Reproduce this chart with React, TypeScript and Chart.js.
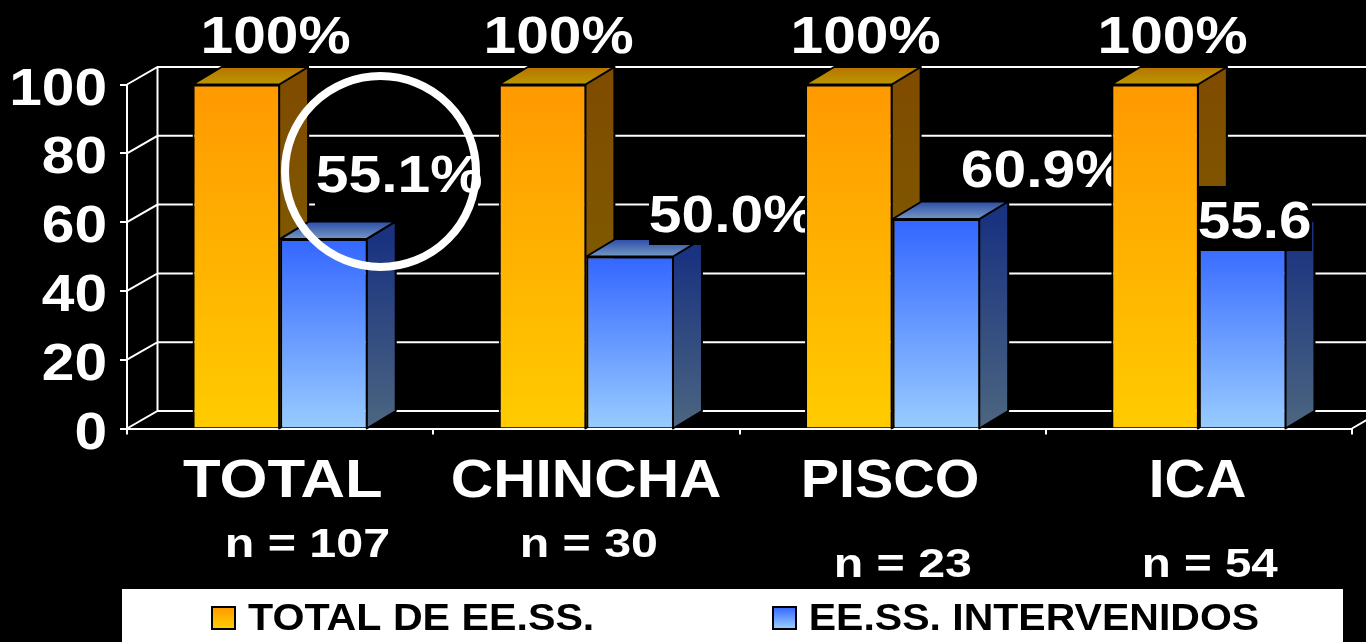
import React, { useEffect, useRef } from "react";
import { Chart, registerables } from "chart.js";

Chart.register(...registerables);

const categories = ["TOTAL", "CHINCHA", "PISCO", "ICA"];
const totalValues = [100, 100, 100, 100];
const intervenedValues = [55.1, 50.0, 60.9, 55.6];
const totalLabels = ["100%", "100%", "100%", "100%"];
const intervenedLabels = ["55.1%", "50.0%", "60.9%", "55.6"];
const countLabels = ["n = 107", "n = 30", "n = 23", "n = 54"];
const seriesNames = ["TOTAL DE EE.SS.", "EE.SS. INTERVENIDOS"];
const yTicks = { min: 0, max: 100, step: 20 };

const FONT = '"Liberation Sans", Arial, sans-serif';
const WALL_DX = 30.5;
const WALL_DY = 17.5;
const BAR_DX = 29;
const BAR_DY = 17.5;

// annotation layout [left, right, baseline]
const categorySpans = [[183, 381, 497], [453, 720, 497], [804, 977, 497], [1152, 1245, 497]];
const countSpans = [[227, 388, 557], [522, 657, 557], [836, 971, 577], [1144, 1278, 577]];
const totalSpans = [[204, 349, 53], [487, 632, 53], [794, 939, 53], [1101, 1246, 53]];
const intervenedSpans = [[317, 481, 191.5], [650, 814, 231.5], [962, 1126, 187], [1199, 1310, 238]];
// black label backgrounds [x0, y0, x1, y1]
const labelBoxes = [[315, 140, 478, 216], [649, 175, 830, 245], [958, 137, 1130, 199], [1199, 186, 1312, 251]];

const ORANGE = ["#FF9900", "#FFCC00"];
const BLUE = ["#3366FF", "#99CCFF"];
const ORANGE_SIDE = ["#7F4C00", "#7F6600"];
const BLUE_SIDE = ["#1A3380", "#4C6680"];
const ORANGE_TOP = ["#B87400", "#BA9800"];
const BLUE_TOP = ["#2C4CA8", "#7499C2"];

function fit(ctx: any, text: string, left: number, right: number, base: number, size: number, color: string) {
  ctx.save();
  ctx.font = `bold ${size}px ${FONT}`;
  ctx.fillStyle = color;
  ctx.textAlign = "left";
  ctx.textBaseline = "alphabetic";
  const m = ctx.measureText(text);
  const ink = m.actualBoundingBoxRight + m.actualBoundingBoxLeft;
  const sx = (right - left) / ink;
  ctx.translate(left + m.actualBoundingBoxLeft * sx, base);
  ctx.scale(sx, 1);
  ctx.fillText(text, 0, 0);
  ctx.restore();
}

function vGrad(ctx: any, y0: number, y1: number, c: string[]) {
  const g = ctx.createLinearGradient(0, y0, 0, y1);
  g.addColorStop(0, c[0]);
  g.addColorStop(1, c[1]);
  return g;
}

function barFill(colors: string[]) {
  return (c: any) => {
    if (typeof c.raw !== "number") return colors[0];
    const y = c.chart.scales.y;
    if (!y) return colors[0];
    const top = y.getPixelForValue(c.raw);
    const bottom = y.getPixelForValue(0);
    if (!Number.isFinite(top) || !Number.isFinite(bottom)) return colors[0];
    return vGrad(c.chart.ctx, top, bottom, colors);
  };
}

function poly(ctx: any, pts: number[][], fill: any) {
  ctx.beginPath();
  pts.forEach((p, i) => (i ? ctx.lineTo(p[0], p[1]) : ctx.moveTo(p[0], p[1])));
  ctx.closePath();
  ctx.fillStyle = fill;
  ctx.fill();
  ctx.strokeStyle = "#000";
  ctx.lineWidth = 2;
  ctx.lineJoin = "round";
  ctx.stroke();
}

const depthPlugin = {
  id: "depth",
  beforeDraw(chart: any) {
    const { ctx, width, height } = chart;
    ctx.save();
    ctx.fillStyle = "#000";
    ctx.fillRect(0, 0, width, height);
    ctx.restore();
  },
  beforeDatasetsDraw(chart: any) {
    const { ctx, scales, chartArea, width } = chart;
    const y = scales.y;
    const left = chartArea.left;
    ctx.save();
    // back wall
    ctx.strokeStyle = "#fff";
    ctx.lineWidth = 2;
    ctx.beginPath();
    ctx.moveTo(left + WALL_DX, y.getPixelForValue(yTicks.max) - WALL_DY);
    ctx.lineTo(left + WALL_DX, y.getPixelForValue(yTicks.min) - WALL_DY);
    y.ticks.forEach((t: any) => {
      const py = y.getPixelForValue(t.value);
      ctx.moveTo(left, py);
      ctx.lineTo(left + WALL_DX, py - WALL_DY);
      ctx.lineTo(width, py - WALL_DY);
    });
    const by = y.getPixelForValue(0);
    ctx.moveTo(chartArea.right, by);
    ctx.lineTo(chartArea.right + WALL_DX, by - WALL_DY);
    ctx.stroke();

    // side and top faces, series by series, under the front faces
    const y0 = y.getPixelForValue(0);
    categories.forEach((_, i) => {
      [0, 1].forEach((ds) => {
        const el = chart.getDatasetMeta(ds).data[i];
        const hw = el.width / 2;
        const xl = el.x - hw;
        const xr = el.x + hw - 1;
        const top = el.y;
        const side = ds === 0 ? ORANGE_SIDE : BLUE_SIDE;
        const roof = ds === 0 ? ORANGE_TOP : BLUE_TOP;
        poly(
          ctx,
          [[xr, top], [xr + BAR_DX, top - BAR_DY], [xr + BAR_DX, y0 - BAR_DY], [xr, y0]],
          vGrad(ctx, top, y0, side),
        );
        poly(
          ctx,
          [[xl, top], [xl + BAR_DX, top - BAR_DY], [xr + BAR_DX, top - BAR_DY], [xr, top]],
          vGrad(ctx, top - BAR_DY, top, roof),
        );
      });
    });
    ctx.restore();
  },
  afterDatasetsDraw(chart: any) {
    const { ctx, width, height } = chart;
    const oranges = chart.getDatasetMeta(0).data;
    intervenedLabels.forEach((label, i) => {
      const next = oranges[i + 1];
      const limit = next ? next.x - next.width / 2 : width;
      const b = labelBoxes[i];
      const s = intervenedSpans[i];
      ctx.save();
      ctx.beginPath();
      ctx.rect(0, 0, limit, height);
      ctx.clip();
      ctx.fillStyle = "#000";
      ctx.fillRect(b[0], b[1], b[2] - b[0], b[3] - b[1]);
      fit(ctx, label, s[0], s[1], s[2], 51, "#fff");
      ctx.restore();
    });
  },
  afterDraw(chart: any) {
    const { ctx, scales, data, height } = chart;
    const y = scales.y;
    // highlight ring on the first group
    ctx.save();
    ctx.strokeStyle = "#fff";
    ctx.lineWidth = 8;
    ctx.beginPath();
    ctx.arc(380.5, 171.5, 95.5, 0, Math.PI * 2);
    ctx.stroke();
    ctx.restore();

    // value axis labels
    y.ticks.forEach((t: any) => {
      const py = y.getPixelForValue(t.value);
      ctx.save();
      ctx.font = `bold 51px ${FONT}`;
      ctx.fillStyle = "#fff";
      ctx.textAlign = "right";
      ctx.textBaseline = "alphabetic";
      ctx.translate(107, py + 20);
      ctx.scale(1.15, 1);
      ctx.fillText(String(t.value), 0, 0);
      ctx.restore();
    });

    categories.forEach((_, i) => {
      const c = categorySpans[i];
      fit(ctx, scales.x.getLabels()[i], c[0], c[1], c[2], 53, "#fff");
      const n = countSpans[i];
      fit(ctx, countLabels[i], n[0], n[1], n[2], 41, "#fff");
      const p = totalSpans[i];
      fit(ctx, totalLabels[i], p[0], p[1], p[2], 51, "#fff");
    });

    // legend
    ctx.save();
    ctx.fillStyle = "#fff";
    ctx.fillRect(122, 589, 1221, height - 589);
    const swatches = [[212, 235, ORANGE], [773, 796, BLUE]] as any[];
    swatches.forEach((s) => {
      ctx.fillStyle = vGrad(ctx, 607, 628, s[2]);
      ctx.strokeStyle = "#000";
      ctx.lineWidth = 2;
      ctx.fillRect(s[0], 607, s[1] - s[0], 22);
      ctx.strokeRect(s[0], 607, s[1] - s[0], 22);
    });
    ctx.restore();
    fit(ctx, data.datasets[0].label, 248, 592, 630, 36, "#000");
    fit(ctx, data.datasets[1].label, 811, 1258, 630, 36, "#000");
  },
};

export default function App() {
  const ref = useRef<HTMLCanvasElement | null>(null);
  useEffect(() => {
    if (!ref.current) return;
    const chart = new Chart(ref.current, {
      type: "bar",
      data: {
        labels: categories,
        datasets: [
          { label: seriesNames[0], data: totalValues, backgroundColor: barFill(ORANGE) },
          { label: seriesNames[1], data: intervenedValues, backgroundColor: barFill(BLUE) },
        ],
      },
      options: {
        responsive: false,
        animation: false,
        layout: { padding: { left: 0, right: 14, top: 84.5, bottom: 0 } },
        datasets: {
          bar: {
            categoryPercentage: 0.572,
            barPercentage: 1,
            borderColor: "#000",
            borderWidth: 2,
            borderSkipped: "bottom",
          },
        },
        plugins: { legend: { display: false }, tooltip: { enabled: false }, title: { display: false } },
        scales: {
          x: {
            z: 1,
            afterFit: (s: any) => {
              s.height = 213.5;
            },
            ticks: { display: false },
            grid: { offset: true, drawOnChartArea: false, color: "#fff", lineWidth: 2, tickLength: 6 },
            border: { color: "#fff", width: 2 },
          },
          y: {
            min: yTicks.min,
            max: yTicks.max,
            afterFit: (s: any) => {
              s.width = 127;
            },
            ticks: { display: false, stepSize: yTicks.step },
            grid: { drawOnChartArea: false, color: "#fff", lineWidth: 2, tickLength: 7 },
            border: { color: "#fff", width: 2 },
          },
        },
      } as any,
      plugins: [depthPlugin],
    });
    return () => chart.destroy();
  }, []);
  return (
    <div style={{ position: "absolute", left: 0, top: 0, width: 1366, height: 642, background: "#000", overflow: "hidden" }}>
      <canvas ref={ref} width={1366} height={642} style={{ display: "block" }} />
    </div>
  );
}
